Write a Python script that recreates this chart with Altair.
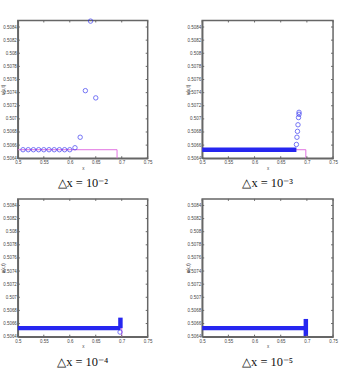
import altair as alt
import pandas as pd

# Axis ticks shared by all four panels
X_TICKS = [0.5, 0.55, 0.6, 0.65, 0.7, 0.75]
Y_TICKS = [0.5064, 0.5066, 0.5068, 0.5070, 0.5072, 0.5074,
           0.5076, 0.5078, 0.5080, 0.5082, 0.5084]
X_DOMAIN = [0.5, 0.75]
Y_DOMAIN = [0.5064, 0.5085]

# Left state of the exact solution
LEVEL = 0.50653

# dx = 1e-2 : individual grid values
p1_x = [0.51, 0.52, 0.53, 0.54, 0.55, 0.56, 0.57, 0.58, 0.59, 0.60,
        0.61, 0.62, 0.63, 0.64, 0.65]
p1_u = [0.50653, 0.50653, 0.50653, 0.50653, 0.50653, 0.50653, 0.50653,
        0.50653, 0.50653, 0.50653, 0.50656, 0.50672, 0.50743, 0.50849,
        0.50732]
# dense runs of grid values, drawn as solid segments: (x, x2, u, u2)
p1_runs = []
p1_shock = 0.691

# dx = 1e-3
p2_x = [0.680, 0.681, 0.682, 0.683, 0.684, 0.685, 0.685]
p2_u = [0.50661, 0.50672, 0.50681, 0.50691, 0.50702, 0.50707, 0.50710]
p2_runs = [(0.5, 0.680, LEVEL, LEVEL)]
p2_shock = 0.698

# dx = 1e-4
p3_x = [0.6968]
p3_u = [0.50647]
p3_runs = [(0.5, 0.6975, LEVEL, LEVEL), (0.6975, 0.6975, LEVEL, 0.50669)]
p3_shock = 0.700

# dx = 1e-5
p4_x = []
p4_u = []
p4_runs = [(0.5, 0.698, LEVEL, LEVEL), (0.698, 0.698, 0.50641, 0.50667)]
p4_shock = 0.700

CAPTIONS = ["△x = 10⁻²", "△x = 10⁻³", "△x = 10⁻⁴", "△x = 10⁻⁵"]

BLUE = "#2626f0"
PINK = "#e070e0"
FRAME = "#666666"
H = 139
TICK_LEN = 2

x_scale = alt.Scale(domain=X_DOMAIN, nice=False, zero=False)
y_scale = alt.Scale(domain=Y_DOMAIN, nice=False, zero=False)
x_axis = alt.Axis(values=X_TICKS, format=".2~f", title="x", grid=False)
y_axis = alt.Axis(values=Y_TICKS, format=".4~f", title="u(x,t)", grid=False,
                  titleX=-12, titleY=H / 2)


def panel(xs, us, runs, shock, caption, width):
    pts = pd.DataFrame({"x": xs, "u": us})
    exact = pd.DataFrame({"x": [X_DOMAIN[0], shock, shock],
                          "u": [LEVEL, LEVEL, 0.5060],
                          "k": [0, 1, 2]})
    xt = pd.DataFrame({"x": X_TICKS})
    yt = pd.DataFrame({"u": Y_TICKS})
    X = alt.X("x:Q", scale=x_scale, axis=x_axis)
    Y = alt.Y("u:Q", scale=y_scale, axis=y_axis)

    layers = [
        alt.Chart(exact).mark_line(color=PINK, strokeWidth=1, clip=True)
        .encode(x=X, y=Y, order="k:Q")
    ]
    if runs:
        seg = pd.DataFrame(runs, columns=["x", "x2", "u", "u2"])
        layers.append(
            alt.Chart(seg).mark_rule(color=BLUE, strokeWidth=4.5,
                                     strokeCap="butt")
            .encode(x=X, x2="x2:Q", y=Y, y2="u2:Q")
        )
    if xs:
        layers.append(
            alt.Chart(pts).mark_point(shape="circle", filled=False,
                                      color=BLUE, size=20, strokeWidth=0.9)
            .encode(x=X, y=Y)
        )
    # inward tick marks on all four sides of the frame
    tick = dict(color=FRAME, strokeWidth=1)
    layers += [
        alt.Chart(xt).mark_rule(**tick).encode(
            x=X, y=alt.value(H), y2=alt.value(H - TICK_LEN)),
        alt.Chart(xt).mark_rule(**tick).encode(
            x=X, y=alt.value(0), y2=alt.value(TICK_LEN)),
        alt.Chart(yt).mark_rule(**tick).encode(
            y=Y, x=alt.value(0), x2=alt.value(TICK_LEN)),
        alt.Chart(yt).mark_rule(**tick).encode(
            y=Y, x=alt.value(width), x2=alt.value(width - TICK_LEN)),
    ]
    return alt.layer(*layers).properties(
        width=width, height=H,
        title=alt.TitleParams(caption, orient="bottom",
                              font="Liberation Serif", fontSize=12.5,
                              fontWeight="normal", color="#111", offset=8),
    )


top = alt.hconcat(
    panel(p1_x, p1_u, p1_runs, p1_shock, CAPTIONS[0], 131),
    panel(p2_x, p2_u, p2_runs, p2_shock, CAPTIONS[1], 132),
    spacing=31,
)
bottom = alt.hconcat(
    panel(p3_x, p3_u, p3_runs, p3_shock, CAPTIONS[2], 131),
    panel(p4_x, p4_u, p4_runs, p4_shock, CAPTIONS[3], 132),
    spacing=31,
)

chart = alt.vconcat(top, bottom, spacing=6).properties(
    padding={"left": 0, "top": 14, "right": 0, "bottom": 0},
    background="white",
).configure_view(
    stroke=FRAME, strokeWidth=1.5
).configure_axis(
    labelFontSize=4.5, labelColor="#444", labelFont="Liberation Sans",
    titleFontSize=4.5, titleColor="#444", titleFont="Liberation Sans",
    titleFontWeight="normal", domainColor=FRAME, domainWidth=1.5,
    tickSize=0, labelPadding=1.5, titlePadding=1,
    labelOverlap=False, labelFlush=False,
)

chart.save("out.html", embed_options={"renderer": "svg", "actions": False})
